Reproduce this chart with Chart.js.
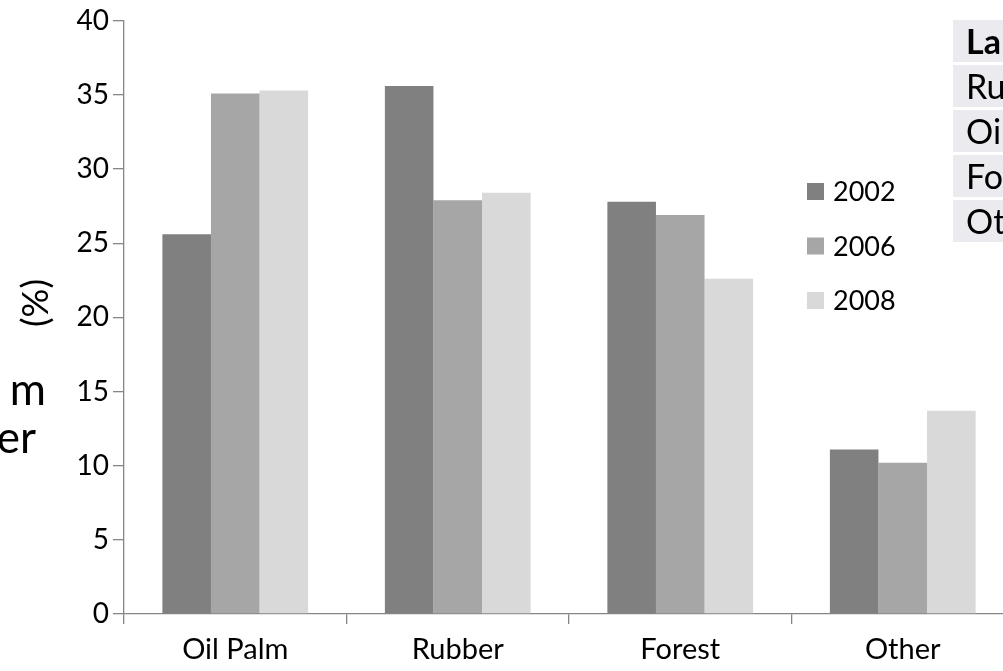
<!DOCTYPE html>
<html>
<head>
<meta charset="utf-8">
<script src="https://cdn.jsdelivr.net/npm/chart.js@4/dist/chart.umd.min.js"></script>
<style>
  html, body { margin: 0; padding: 0; background: #fff; overflow: hidden; width: 1003px; height: 671px; }
  #wrap { position: relative; width: 1003px; height: 671px; overflow: hidden; font-family: Lato, "Open Sans", sans-serif; }
  #cv { position: absolute; left: 0; top: 0; }
  .side { position: absolute; font-size: 44px; line-height: 44px; color: #000; white-space: nowrap; text-align: right; }
  #ytitle { position: absolute; left: 34px; top: 303px; transform: translate(-50%, -50%) rotate(-90deg); font-size: 36px; line-height: 36px; white-space: nowrap; color: #000; }
  #tbl { position: absolute; left: 953px; top: 20px; }
  #tbl div { height: 42px; margin-bottom: 3px; width: 200px; background: #ebebef; font-size: 34px; line-height: 42px; padding-left: 13px; box-sizing: border-box; white-space: nowrap; color: #000; }
  #tbl div.h { font-weight: bold; }
</style>
</head>
<body>
<div id="wrap">
  <canvas id="cv" width="1100" height="671"></canvas>
  <div id="ytitle">(%)</div>
  <div class="side" style="left:-100px; width:146px; top:366px;">m</div>
  <div class="side" style="left:-100px; width:136px; top:414px;">er</div>
  <div id="tbl"></div>
</div>
<script>
const categories = ["Oil Palm", "Rubber", "Forest", "Other"];
const seriesLabels = ["2002", "2006", "2008"];
const values2002 = [25.6, 35.6, 27.8, 11.1];
const values2006 = [35.1, 27.9, 26.9, 10.2];
const values2008 = [35.3, 28.4, 22.6, 13.7];
const yTicks = [0, 5, 10, 15, 20, 25, 30, 35, 40];
const tableHeader = "Land";
const tableRows = ["Rubber", "Oil Palm", "Forest", "Other"];
const colors = ["#808080", "#a6a6a6", "#d9d9d9"];

const tbl = document.getElementById('tbl');
[tableHeader].concat(tableRows).forEach((t, i) => {
  const d = document.createElement('div');
  d.textContent = t;
  if (i === 0) d.className = 'h';
  tbl.appendChild(d);
});

const FONT = 'Lato, "Open Sans", sans-serif';

const legendPlugin = {
  id: 'customLegend',
  afterDraw(chart) {
    const ctx = chart.ctx;
    ctx.save();
    ctx.font = '27px ' + FONT;
    ctx.textBaseline = 'middle';
    ctx.textAlign = 'left';
    chart.data.datasets.forEach((ds, i) => {
      const cy = 191.5 + i * 54.5;
      ctx.fillStyle = ds.backgroundColor;
      ctx.fillRect(807, cy - 8.5, 17, 17);
      ctx.fillStyle = '#000';
      ctx.fillText(ds.label, 833, cy + 1);
    });
    ctx.restore();
  }
};

new Chart(document.getElementById('cv'), {
  type: 'bar',
  data: {
    labels: categories,
    datasets: [
      { label: seriesLabels[0], data: values2002, backgroundColor: colors[0] },
      { label: seriesLabels[1], data: values2006, backgroundColor: colors[1] },
      { label: seriesLabels[2], data: values2008, backgroundColor: colors[2] }
    ]
  },
  options: {
    responsive: false,
    animation: false,
    devicePixelRatio: 1,
    categoryPercentage: 0.655,
    barPercentage: 1.0,
    layout: { padding: { left: 0, top: 20, right: 86, bottom: 0 } },
    plugins: { legend: { display: false }, tooltip: { enabled: false }, title: { display: false } },
    scales: {
      x: {
        grid: { display: true, drawOnChartArea: false, offset: true, tickLength: 10, color: '#868686', lineWidth: 1.3 },
        border: { color: '#868686', width: 1.3 },
        ticks: { color: '#000', font: { family: FONT, size: 29 }, padding: 8, maxRotation: 0 },
        afterFit(s) { s.height = 57; }
      },
      y: {
        min: 0, max: 40,
        afterBuildTicks(s) { s.ticks = yTicks.map(v => ({ value: v })); },
        grid: { display: true, drawOnChartArea: false, tickLength: 11, color: '#868686', lineWidth: 1.3 },
        border: { color: '#868686', width: 1.3 },
        ticks: { color: '#000', font: { family: FONT, size: 28 }, padding: 4 },
        afterFit(s) { s.width = 124; }
      }
    }
  },
  plugins: [legendPlugin]
});
</script>
</body>
</html>
